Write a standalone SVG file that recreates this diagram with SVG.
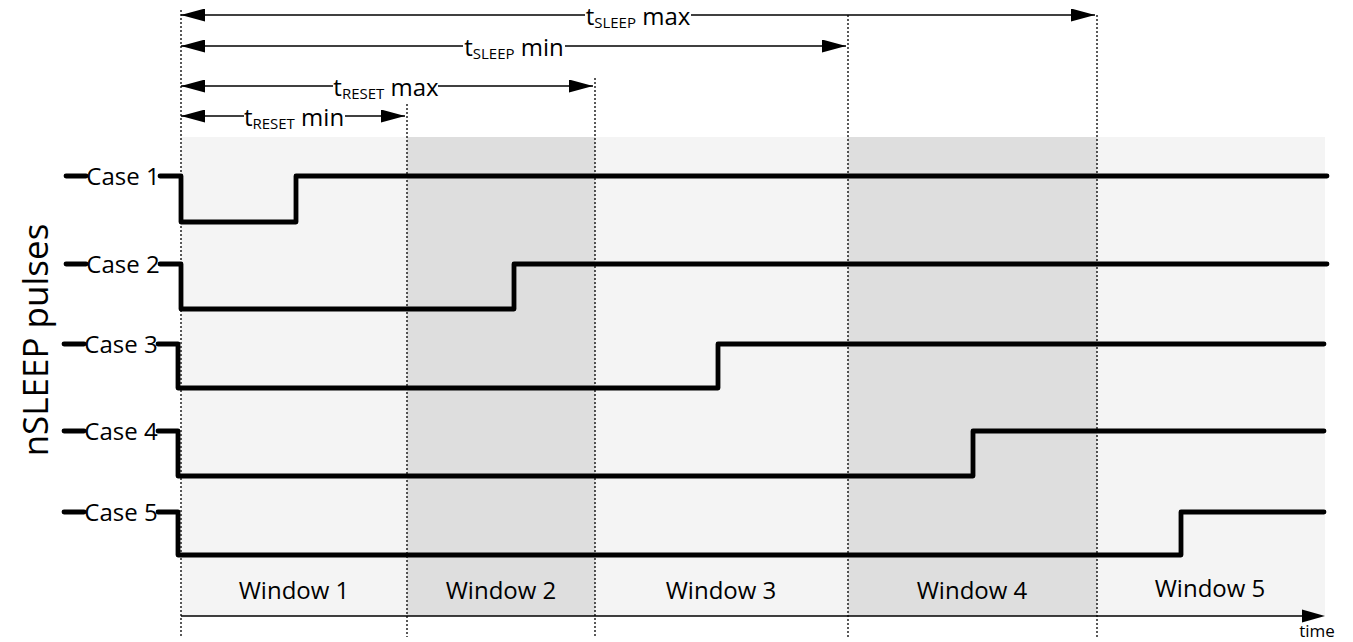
<svg xmlns="http://www.w3.org/2000/svg" width="1353" height="642" viewBox="0 0 1353 642">
<style>
text{font-family:"Open Sans","Noto Sans",sans-serif;fill:#000}
.lbl{font-size:24px}
.sub{font-size:15px}
.sig{fill:none;stroke:#000;stroke-width:4.8;stroke-linecap:round;stroke-linejoin:round}
.dot{stroke:#000;stroke-width:1.3;stroke-dasharray:2,2;fill:none}
.dim{stroke:#000;stroke-width:1.6;fill:none;marker-start:url(#ah);marker-end:url(#ah)}
.mask{fill:#fff}
</style>
<defs>
<marker id="ah" viewBox="0 0 24 13" refX="24" refY="6.5" markerWidth="24" markerHeight="13" markerUnits="userSpaceOnUse" orient="auto-start-reverse">
<path d="M0,0 L24,6.5 L0,13 z" fill="#000"/>
</marker>
</defs>
<g id="background">
<rect x="181" y="137" width="1144" height="479" fill="#f4f4f4"/>
<rect x="407" y="137" width="188" height="479" fill="#dedede"/>
<rect x="848" y="137" width="249" height="479" fill="#dedede"/>
</g>
<g id="gridlines">
<line class="dot" x1="181" y1="10" x2="181" y2="637"/>
<line class="dot" x1="407" y1="104" x2="407" y2="637"/>
<line class="dot" x1="595" y1="78" x2="595" y2="637"/>
<line class="dot" x1="848" y1="15" x2="848" y2="637"/>
<line class="dot" x1="1097" y1="15" x2="1097" y2="637"/>
</g>
<g id="connectors">
<line class="dim" x1="181" y1="15" x2="1095" y2="15"/>
<line class="dim" x1="181" y1="46" x2="846" y2="46"/>
<line class="dim" x1="181" y1="86" x2="593" y2="86"/>
<line class="dim" x1="181" y1="116" x2="405" y2="116"/>
<line x1="181" y1="616" x2="1310" y2="616" stroke="#000" stroke-width="1.6"/>
<path d="M1302,609.5 L1325,616 L1302,622.5 z" fill="#000"/>
</g>
<g id="dim-labels">
<g id="tsleep-max">
<rect class="mask" x="585" y="3" width="106" height="26"/>
<text class="lbl" x="638" y="25" text-anchor="middle">t<tspan class="sub" dy="3">SLEEP</tspan><tspan dy="-3"> max</tspan></text>
</g>
<g id="tsleep-min">
<rect class="mask" x="463" y="34" width="102" height="26"/>
<text class="lbl" x="514" y="56" text-anchor="middle">t<tspan class="sub" dy="3">SLEEP</tspan><tspan dy="-3"> min</tspan></text>
</g>
<g id="treset-max">
<rect class="mask" x="333" y="74" width="105" height="26"/>
<text class="lbl" x="386" y="96" text-anchor="middle">t<tspan class="sub" dy="3">RESET</tspan><tspan dy="-3"> max</tspan></text>
</g>
<g id="treset-min">
<rect class="mask" x="244" y="104" width="101" height="26"/>
<text class="lbl" x="294" y="126" text-anchor="middle">t<tspan class="sub" dy="3">RESET</tspan><tspan dy="-3"> min</tspan></text>
</g>
</g>
<g id="case1">
<line class="sig" x1="66" y1="176" x2="86" y2="176"/>
<text class="lbl" x="123" y="185" text-anchor="middle">Case 1</text>
<path class="sig" d="M160,176 H181 V222 H296 V176 H1327"/>
</g>
<g id="case2">
<line class="sig" x1="66" y1="264" x2="86" y2="264"/>
<text class="lbl" x="123" y="273" text-anchor="middle">Case 2</text>
<path class="sig" d="M160,264 H181 V309 H514 V264 H1327"/>
</g>
<g id="case3">
<line class="sig" x1="64" y1="344" x2="84" y2="344"/>
<text class="lbl" x="121" y="353" text-anchor="middle">Case 3</text>
<path class="sig" d="M158,344 H178 V388 H718 V344 H1324"/>
</g>
<g id="case4">
<line class="sig" x1="64" y1="431" x2="84" y2="431"/>
<text class="lbl" x="121" y="440" text-anchor="middle">Case 4</text>
<path class="sig" d="M158,431 H178 V476 H973 V431 H1324"/>
</g>
<g id="case5">
<line class="sig" x1="64" y1="512" x2="84" y2="512"/>
<text class="lbl" x="121" y="521" text-anchor="middle">Case 5</text>
<path class="sig" d="M158,512 H178 V555 H1181 V512 H1324"/>
</g>
<g id="windows">
<text class="lbl" x="294" y="599" text-anchor="middle">Window 1</text>
<text class="lbl" x="501" y="599" text-anchor="middle">Window 2</text>
<text class="lbl" x="721" y="599" text-anchor="middle">Window 3</text>
<text class="lbl" x="972" y="599" text-anchor="middle">Window 4</text>
<text class="lbl" x="1210" y="597" text-anchor="middle">Window 5</text>
</g>
<text x="1317" y="637" text-anchor="middle" font-size="17">time</text>
<text x="48" y="340" text-anchor="middle" font-size="35" transform="rotate(-90 48 340)">nSLEEP pulses</text>
</svg>
